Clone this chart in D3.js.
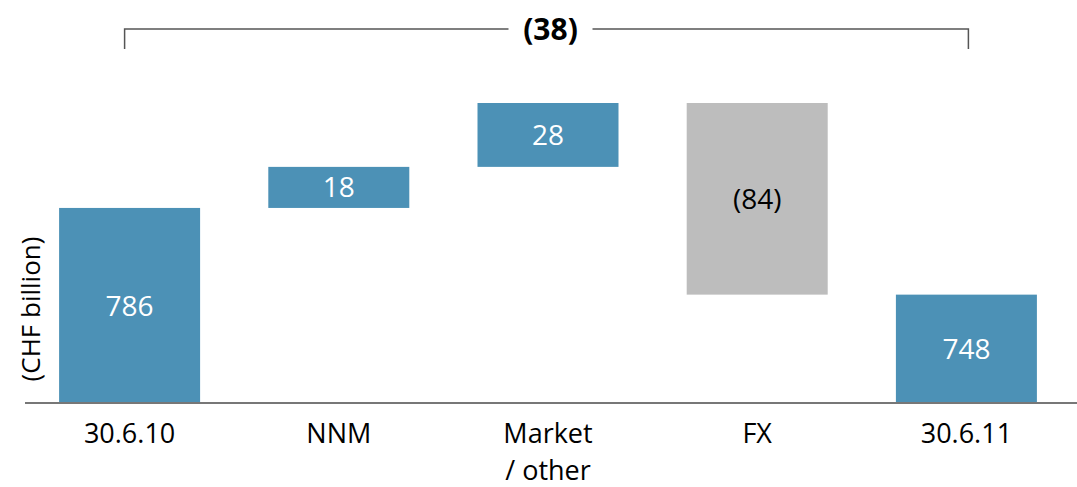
<!DOCTYPE html>
<html>
<head>
<meta charset="utf-8">
<script src="https://cdn.jsdelivr.net/npm/d3@7"></script>
<style>
  body { margin: 0; background: #fff; }
  text { font-family: "Open Sans", "Noto Sans", sans-serif; }
</style>
</head>
<body>
<div id="chart"></div>
<script>
const categories = ["30.6.10", "NNM", "Market\n/ other", "FX", "30.6.11"];
const changes = [786, 18, 28, -84, 748];
const kinds = ["total", "delta", "delta", "delta", "total"];
const labels = ["786", "18", "28", "(84)", "748"];
const bracketLabel = "(38)";

const width = 1077;
const height = 487;
const baseY = 403;
const blue = "#4c91b6";
const grey = "#bdbdbd";

// build waterfall start/end values
let running = 0;
const bars = categories.map((c, i) => {
  let start, end;
  if (kinds[i] === "total") {
    start = null; end = changes[i]; running = changes[i];
  } else {
    start = running; end = running + changes[i]; running = end;
  }
  return { c, start, end, label: labels[i], neg: changes[i] < 0 && kinds[i] === "delta" };
});

const svg = d3.select("#chart").append("svg")
  .attr("width", width)
  .attr("height", height);

const x = d3.scaleBand()
  .domain(categories)
  .range([25, 1071])
  .paddingInner(0.326)
  .paddingOuter(0.163);

const y = d3.scaleLinear()
  .domain([700.5, 832])
  .range([baseY, 103]);

/* bars */
svg.append("g")
  .selectAll("rect")
  .data(bars)
  .join("rect")
  .attr("x", (d) => x(d.c))
  .attr("width", x.bandwidth())
  .attr("y", (d) => y(Math.max(d.start ?? y.domain()[0], d.end)))
  .attr("height", (d) => Math.abs(y(d.start ?? y.domain()[0]) - y(d.end)))
  .attr("fill", (d) => (d.neg ? grey : blue));

/* value labels in the middle of each bar */
svg.append("g")
  .selectAll("text")
  .data(bars)
  .join("text")
  .attr("x", (d) => x(d.c) + x.bandwidth() / 2)
  .attr("y", (d) => (y(d.start ?? y.domain()[0]) + y(d.end)) / 2)
  .attr("dy", "0.36em")
  .attr("text-anchor", "middle")
  .style("font-size", "28px")
  .attr("fill", (d) => (d.neg ? "#000" : "#fff"))
  .text((d) => d.label);

/* baseline */
svg.append("line")
  .attr("x1", 25).attr("x2", width)
  .attr("y1", baseY).attr("y2", baseY)
  .attr("stroke", "#777")
  .attr("stroke-width", 2);

/* category labels, one text per line */
const xAxis = svg.append("g");
categories.forEach((c) => {
  c.split("\n").forEach((line, j) => {
    xAxis.append("text")
      .attr("x", x(c) + x.bandwidth() / 2)
      .attr("y", 443 + j * 36.5)
      .attr("text-anchor", "middle")
      .style("font-size", "27px")
      .attr("fill", "#000")
      .text(line);
  });
});

/* y axis title */
svg.append("text")
  .attr("transform", `translate(40, 309) rotate(-90)`)
  .attr("text-anchor", "middle")
  .style("font-size", "26px")
  .attr("fill", "#000")
  .text("(CHF billion)");

/* bracket spanning first to last total */
const bx0 = x(categories[0]) + x.bandwidth() / 2 - 5;
const bx1 = x(categories[categories.length - 1]) + x.bandwidth() / 2 + 2;
const by = 29;
const mid = (bx0 + bx1) / 2 + 4;
const bracket = svg.append("g")
  .attr("fill", "none")
  .attr("stroke", "#555")
  .attr("stroke-width", 1.5);
bracket.append("path")
  .attr("d", `M${bx0},49V${by}H${mid - 42}`);
bracket.append("path")
  .attr("d", `M${mid + 42},${by}H${bx1}V49`);
svg.append("text")
  .attr("x", mid)
  .attr("y", by)
  .attr("dy", "0.36em")
  .attr("text-anchor", "middle")
  .style("font-size", "30px")
  .style("font-weight", "bold")
  .attr("fill", "#000")
  .text(bracketLabel);
</script>
</body>
</html>
